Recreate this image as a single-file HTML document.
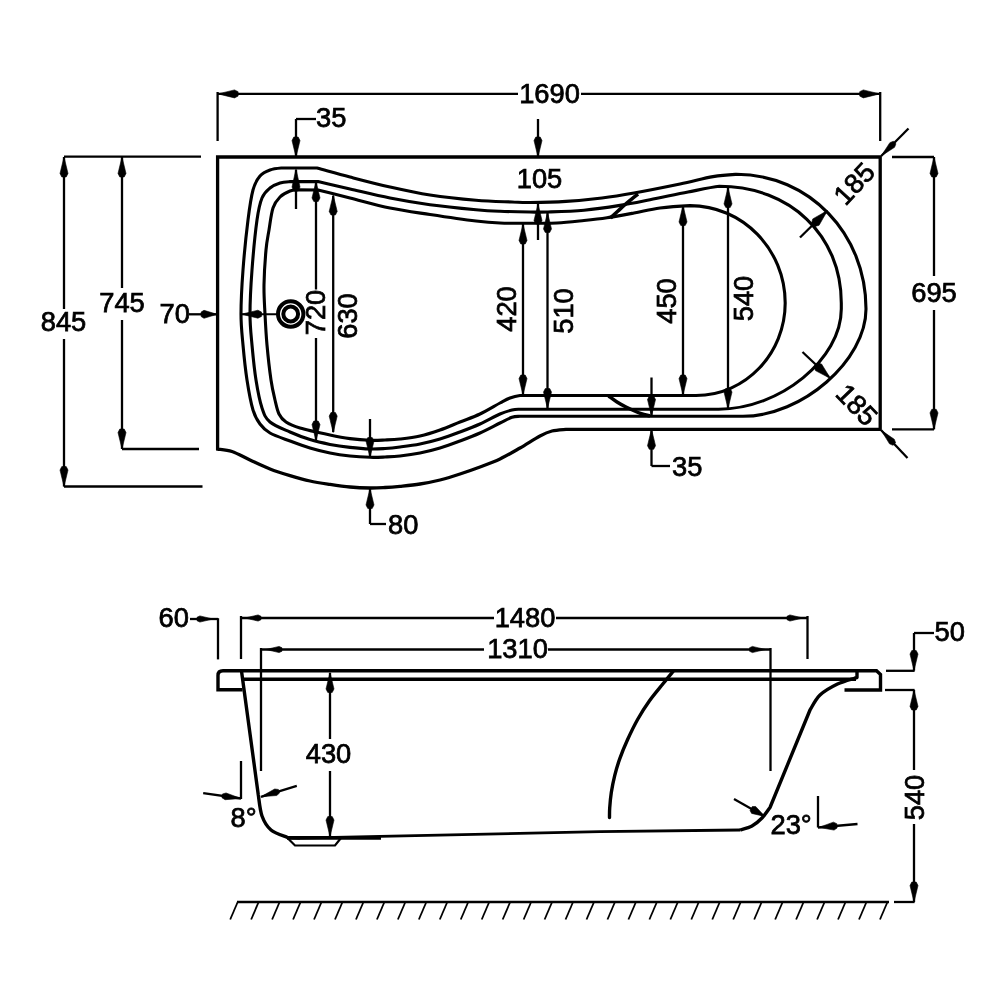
<!DOCTYPE html>
<html><head><meta charset="utf-8"><title>Bath dimensions</title>
<style>
html,body{margin:0;padding:0;background:#fff;}
body{width:1000px;height:1000px;overflow:hidden;}
svg{display:block;will-change:transform;transform:translateZ(0);}
svg *{fill:none;stroke:#000;}
svg text{font-family:"Liberation Sans",Arial,sans-serif;fill:#000;stroke:#000;stroke-width:0.75px;}
svg .ah{fill:#000;stroke:#000;stroke-width:0.6;stroke-linejoin:round;}
</style></head><body>
<svg width="1000" height="1000" viewBox="0 0 1000 1000">
<rect x="0" y="0" width="1000" height="1000" style="fill:#fff;stroke:none"/>
<path d="M 217.60,157.00 L 880.20,157.00 L 880.20,429.30 L 566,429.30  C 563.67,429.58 556.33,429.88 552.00,431.00 C 547.67,432.12 545.33,433.17 540.00,436.00 C 534.67,438.83 526.67,444.17 520.00,448.00 C 513.33,451.83 506.67,455.83 500.00,459.00 C 493.33,462.17 486.67,464.50 480.00,467.00 C 473.33,469.50 466.67,471.83 460.00,474.00 C 453.33,476.17 446.67,478.33 440.00,480.00 C 433.33,481.67 426.67,482.95 420.00,484.00 C 413.33,485.05 405.83,485.72 400.00,486.30 C 394.17,486.88 390.00,487.22 385.00,487.50 C 380.00,487.78 375.83,488.08 370.00,488.00 C 364.17,487.92 356.67,487.60 350.00,487.00 C 343.33,486.40 336.67,485.40 330.00,484.40 C 323.33,483.40 316.67,482.47 310.00,481.00 C 303.33,479.53 296.67,477.60 290.00,475.60 C 283.33,473.60 276.67,471.60 270.00,469.00 C 263.33,466.40 256.33,462.92 250.00,460.00 C 243.67,457.08 237.40,453.33 232.00,451.50 C 226.60,449.67 220.00,449.42 217.60,449.00 Z" stroke-width="3.3" stroke-linejoin="miter"/>
<path d="M 282,168 L 317,168 C 328.00,171.00 337.83,173.83 350.00,177.00 C 362.17,180.17 376.67,184.00 390.00,187.00 C 403.33,190.00 415.67,192.78 430.00,195.00 C 444.33,197.22 462.33,199.13 476.00,200.30 C 489.67,201.47 503.00,201.63 512.00,202.00 C 521.00,202.37 521.00,202.60 530.00,202.50 C 539.00,202.40 554.00,202.15 566.00,201.40 C 578.00,200.65 590.67,199.40 602.00,198.00 C 613.33,196.60 621.00,195.33 634.00,193.00 C 647.00,190.67 666.83,186.73 680.00,184.00 C 693.17,181.27 703.60,178.22 713.00,176.60 C 722.40,174.98 729.23,174.68 736.40,174.30 C 809,174.3 866,233.6 866,309 C 866,360.5 802,416.3 743,416.3 L 520,416.3 C 517.00,416.47 515.33,416.18 512.00,417.30 C 508.67,418.42 505.33,420.38 500.00,423.00 C 494.67,425.62 486.67,430.00 480.00,433.00 C 473.33,436.00 466.67,438.50 460.00,441.00 C 453.33,443.50 446.67,446.00 440.00,448.00 C 433.33,450.00 426.67,451.67 420.00,453.00 C 413.33,454.33 405.83,455.33 400.00,456.00 C 394.17,456.67 390.00,456.78 385.00,457.00 C 380.00,457.22 375.83,457.47 370.00,457.30 C 364.17,457.13 356.67,456.72 350.00,456.00 C 343.33,455.28 336.67,454.33 330.00,453.00 C 323.33,451.67 316.67,450.00 310.00,448.00 C 303.33,446.00 296.67,443.50 290.00,441.00 C 283.33,438.50 275.00,435.83 270.00,433.00 C 265.00,430.17 262.83,427.83 260.00,424.00 C 257.17,420.17 255.17,417.33 253.00,410.00 C 250.83,402.67 248.67,390.83 247.00,380.00 C 245.33,369.17 244.00,356.00 243.00,345.00 C 242.00,334.00 241.00,326.50 241.00,314.00 C 241.00,301.50 241.83,285.67 243.00,270.00 C 244.17,254.33 246.33,233.33 248.00,220.00 C 249.67,206.67 251.00,197.33 253.00,190.00 C 255.00,182.67 257.17,179.33 260.00,176.00 C 262.83,172.67 266.33,171.33 270.00,170.00 C 273.67,168.67 278.33,168.33 282.00,168.00 Z" stroke-width="3.1" stroke-linejoin="round"/>
<path d="M 290,181.6 L 318,181.6 C 328.67,184.07 338.00,186.27 350.00,189.00 C 362.00,191.73 376.67,195.38 390.00,198.00 C 403.33,200.62 415.67,202.75 430.00,204.70 C 444.33,206.65 464.33,208.60 476.00,209.70 C 487.67,210.80 491.00,210.92 500.00,211.30 C 509.00,211.68 522.00,211.88 530.00,212.00 C 538.00,212.12 539.00,212.30 548.00,212.00 C 557.00,211.70 572.00,211.30 584.00,210.20 C 596.00,209.10 609.00,207.13 620.00,205.40 C 631.00,203.67 638.67,202.03 650.00,199.80 C 661.33,197.57 676.43,194.25 688.00,192.00 C 699.57,189.75 710.73,187.25 719.40,186.30 C 790.1,186.3 841.3,235.3 841.3,303 L 841.3,309 C 841.3,359.1 780,409.2 718.6,409.2 L 520,409.2 C 517.00,409.33 515.33,409.20 512.00,410.00 C 508.67,410.80 505.33,411.67 500.00,414.00 C 494.67,416.33 486.67,421.00 480.00,424.00 C 473.33,427.00 466.67,429.50 460.00,432.00 C 453.33,434.50 446.67,437.00 440.00,439.00 C 433.33,441.00 426.67,442.67 420.00,444.00 C 413.33,445.33 405.83,446.25 400.00,447.00 C 394.17,447.75 390.00,448.17 385.00,448.50 C 380.00,448.83 375.83,449.18 370.00,449.00 C 364.17,448.82 356.67,448.17 350.00,447.40 C 343.33,446.63 336.67,445.70 330.00,444.40 C 323.33,443.10 316.67,441.67 310.00,439.60 C 303.33,437.53 296.67,434.93 290.00,432.00 C 283.33,429.07 274.67,426.00 270.00,422.00 C 265.33,418.00 264.33,415.00 262.00,408.00 C 259.67,401.00 257.67,390.50 256.00,380.00 C 254.33,369.50 253.00,356.00 252.00,345.00 C 251.00,334.00 250.00,326.50 250.00,314.00 C 250.00,301.50 250.83,285.67 252.00,270.00 C 253.17,254.33 255.33,232.00 257.00,220.00 C 258.67,208.00 259.83,203.33 262.00,198.00 C 264.17,192.67 267.00,190.50 270.00,188.00 C 273.00,185.50 276.67,184.07 280.00,183.00 C 283.33,181.93 286.67,181.83 290.00,181.60 Z" stroke-width="3.1" stroke-linejoin="round"/>
<path d="M 298,189.8 L 318,190 C 328.67,192.67 338.00,195.00 350.00,198.00 C 362.00,201.00 376.67,205.25 390.00,208.00 C 403.33,210.75 415.67,212.33 430.00,214.50 C 444.33,216.67 464.33,219.58 476.00,221.00 C 487.67,222.42 491.00,222.63 500.00,223.00 C 509.00,223.37 520.50,223.20 530.00,223.20 C 539.50,223.20 548.00,223.45 557.00,223.00 C 566.00,222.55 575.67,221.38 584.00,220.50 C 592.33,219.62 598.67,218.95 607.00,217.70 C 615.33,216.45 625.17,214.62 634.00,213.00 C 642.83,211.38 650.67,209.23 660.00,208.00 C 669.33,206.77 681.67,206.00 690.00,205.60 C 742.4,205.6 785.2,249.4 785.2,303 C 785.2,353 746,395.5 696,395.5 L 520,395.5 C 516.67,395.92 513.33,396.75 510.00,398.00 C 506.67,399.25 505.00,400.33 500.00,403.00 C 495.00,405.67 486.67,410.83 480.00,414.00 C 473.33,417.17 466.67,419.33 460.00,422.00 C 453.33,424.67 446.67,427.67 440.00,430.00 C 433.33,432.33 426.67,434.50 420.00,436.00 C 413.33,437.50 405.83,438.33 400.00,439.00 C 394.17,439.67 390.00,439.78 385.00,440.00 C 380.00,440.22 375.83,440.53 370.00,440.30 C 364.17,440.07 356.67,439.48 350.00,438.60 C 343.33,437.72 338.33,436.77 330.00,435.00 C 321.67,433.23 307.33,430.17 300.00,428.00 C 292.67,425.83 289.50,424.33 286.00,422.00 C 282.50,419.67 280.83,417.67 279.00,414.00 C 277.17,410.33 276.33,405.67 275.00,400.00 C 273.67,394.33 272.33,389.17 271.00,380.00 C 269.67,370.83 268.00,356.00 267.00,345.00 C 266.00,334.00 265.50,324.00 265.00,314.00 C 264.50,304.00 263.83,295.67 264.00,285.00 C 264.17,274.33 265.17,259.17 266.00,250.00 C 266.83,240.83 267.83,237.00 269.00,230.00 C 270.17,223.00 271.17,213.50 273.00,208.00 C 274.83,202.50 277.17,199.83 280.00,197.00 C 282.83,194.17 287.00,192.20 290.00,191.00 C 293.00,189.80 295.00,190.00 298.00,189.80 Z" stroke-width="3.1" stroke-linejoin="round"/>
<path d="M 610.50,218.00 C 611.75,216.83 615.08,213.67 618.00,211.00 C 620.92,208.33 624.67,204.83 628.00,202.00 C 631.33,199.17 636.33,195.33 638.00,194.00" stroke-width="3.6" />
<path d="M 608.60,396.00 C 610.00,397.00 614.10,400.17 617.00,402.00 C 619.90,403.83 622.10,405.10 626.00,407.00 C 629.90,408.90 636.40,411.90 640.40,413.40 C 644.40,414.90 648.40,415.57 650.00,416.00" stroke-width="3.6" />
<circle cx="290.7" cy="314" r="12.7" stroke-width="4.0"/>
<circle cx="290.7" cy="314" r="7.4" stroke-width="4.0"/>
<line x1="217.60" y1="92.00" x2="217.60" y2="141.00" stroke-width="2.3"/>
<line x1="880.20" y1="92.00" x2="880.20" y2="141.00" stroke-width="2.3"/>
<line x1="217.60" y1="93.90" x2="518.00" y2="93.90" stroke-width="2.3"/>
<line x1="581.00" y1="93.90" x2="880.20" y2="93.90" stroke-width="2.3"/>
<polygon class="ah" points="218.10,93.90 234.50,89.90 238.10,91.70 238.10,96.10 234.50,97.90"/>
<polygon class="ah" points="879.70,93.90 863.30,97.90 859.70,96.10 859.70,91.70 863.30,89.90"/>
<text x="549.50" y="103.00" text-anchor="middle" font-size="27.3">1690</text>
<line x1="316.00" y1="119.00" x2="296.00" y2="119.00" stroke-width="2.3"/>
<line x1="296.00" y1="119.00" x2="296.00" y2="157.00" stroke-width="2.3"/>
<polygon class="ah" points="296.00,157.00 292.00,140.60 293.80,137.00 298.20,137.00 300.00,140.60"/>
<line x1="296.00" y1="170.00" x2="296.00" y2="209.00" stroke-width="2.3"/>
<polygon class="ah" points="296.00,169.00 300.00,187.04 298.20,191.00 293.80,191.00 292.00,187.04"/>
<text x="316.00" y="127.00" text-anchor="start" font-size="27.3">35</text>
<line x1="538.00" y1="119.00" x2="538.00" y2="157.00" stroke-width="2.3"/>
<polygon class="ah" points="538.00,157.00 534.00,140.60 535.80,137.00 540.20,137.00 542.00,140.60"/>
<line x1="538.00" y1="204.00" x2="538.00" y2="240.00" stroke-width="2.3"/>
<polygon class="ah" points="538.00,204.00 542.00,220.40 540.20,224.00 535.80,224.00 534.00,220.40"/>
<text x="539.50" y="188.00" text-anchor="middle" font-size="27.3">105</text>
<line x1="64.00" y1="156.70" x2="201.00" y2="156.70" stroke-width="2.3"/>
<line x1="64.00" y1="157.00" x2="64.00" y2="309.00" stroke-width="2.3"/>
<line x1="64.00" y1="339.00" x2="64.00" y2="486.50" stroke-width="2.3"/>
<polygon class="ah" points="64.00,157.00 68.00,173.40 66.20,177.00 61.80,177.00 60.00,173.40"/>
<polygon class="ah" points="64.00,486.50 60.00,470.10 61.80,466.50 66.20,466.50 68.00,470.10"/>
<line x1="64.00" y1="486.50" x2="202.50" y2="486.50" stroke-width="2.3"/>
<text x="63.50" y="331.00" text-anchor="middle" font-size="27.3">845</text>
<line x1="122.00" y1="157.00" x2="122.00" y2="288.00" stroke-width="2.3"/>
<line x1="122.00" y1="320.00" x2="122.00" y2="449.00" stroke-width="2.3"/>
<polygon class="ah" points="122.00,157.00 126.00,173.40 124.20,177.00 119.80,177.00 118.00,173.40"/>
<polygon class="ah" points="122.00,449.00 118.00,432.60 119.80,429.00 124.20,429.00 126.00,432.60"/>
<line x1="122.00" y1="449.00" x2="199.00" y2="449.00" stroke-width="2.3"/>
<text x="122.00" y="312.00" text-anchor="middle" font-size="27.3">745</text>
<text x="159.50" y="323.00" text-anchor="start" font-size="27.3">70</text>
<line x1="189.00" y1="314.30" x2="217.60" y2="314.30" stroke-width="2.3"/>
<polygon class="ah" points="217.10,314.30 203.98,318.30 201.10,316.50 201.10,312.10 203.98,310.30"/>
<line x1="242.00" y1="314.20" x2="277.00" y2="314.20" stroke-width="2.0"/>
<polygon class="ah" points="241.50,314.20 257.90,310.20 261.50,312.00 261.50,316.40 257.90,318.20"/>
<line x1="316.00" y1="181.00" x2="316.00" y2="289.50" stroke-width="2.3"/>
<line x1="316.00" y1="338.00" x2="316.00" y2="441.00" stroke-width="2.3"/>
<polygon class="ah" points="316.00,181.50 320.00,197.90 318.20,201.50 313.80,201.50 312.00,197.90"/>
<polygon class="ah" points="316.00,441.00 312.00,424.60 313.80,421.00 318.20,421.00 320.00,424.60"/>
<text x="325.00" y="312.50" text-anchor="middle" font-size="27.3" transform="rotate(-90 325.00 312.50)">720</text>
<line x1="333.20" y1="196.00" x2="333.20" y2="432.00" stroke-width="2.3"/>
<polygon class="ah" points="333.20,195.00 337.20,211.40 335.40,215.00 331.00,215.00 329.20,211.40"/>
<polygon class="ah" points="333.20,432.50 329.20,416.10 331.00,412.50 335.40,412.50 337.20,416.10"/>
<text x="357.00" y="316.00" text-anchor="middle" font-size="27.3" transform="rotate(-90 357.00 316.00)">630</text>
<line x1="523.00" y1="224.00" x2="523.00" y2="395.00" stroke-width="2.3"/>
<polygon class="ah" points="523.00,224.00 527.00,240.40 525.20,244.00 520.80,244.00 519.00,240.40"/>
<polygon class="ah" points="523.00,395.00 519.00,378.60 520.80,375.00 525.20,375.00 527.00,378.60"/>
<text x="515.50" y="309.00" text-anchor="middle" font-size="27.3" transform="rotate(-90 515.50 309.00)">420</text>
<line x1="547.50" y1="212.50" x2="547.50" y2="408.00" stroke-width="2.3"/>
<polygon class="ah" points="547.50,212.50 551.50,228.90 549.70,232.50 545.30,232.50 543.50,228.90"/>
<polygon class="ah" points="547.50,408.50 543.50,392.10 545.30,388.50 549.70,388.50 551.50,392.10"/>
<text x="572.70" y="311.00" text-anchor="middle" font-size="27.3" transform="rotate(-90 572.70 311.00)">510</text>
<line x1="683.00" y1="206.00" x2="683.00" y2="395.00" stroke-width="2.3"/>
<polygon class="ah" points="683.00,205.50 687.00,221.90 685.20,225.50 680.80,225.50 679.00,221.90"/>
<polygon class="ah" points="683.00,395.00 679.00,378.60 680.80,375.00 685.20,375.00 687.00,378.60"/>
<text x="675.50" y="301.00" text-anchor="middle" font-size="27.3" transform="rotate(-90 675.50 301.00)">450</text>
<line x1="728.00" y1="188.00" x2="728.00" y2="408.00" stroke-width="2.3"/>
<polygon class="ah" points="728.00,187.50 732.00,203.90 730.20,207.50 725.80,207.50 724.00,203.90"/>
<polygon class="ah" points="728.00,408.50 724.00,392.10 725.80,388.50 730.20,388.50 732.00,392.10"/>
<text x="752.80" y="298.50" text-anchor="middle" font-size="27.3" transform="rotate(-90 752.80 298.50)">540</text>
<line x1="370.00" y1="419.00" x2="370.00" y2="457.00" stroke-width="2.3"/>
<polygon class="ah" points="370.00,457.50 366.00,441.10 367.80,437.50 372.20,437.50 374.00,441.10"/>
<line x1="370.00" y1="488.00" x2="370.00" y2="524.00" stroke-width="2.3"/>
<line x1="370.00" y1="524.00" x2="386.00" y2="524.00" stroke-width="2.3"/>
<polygon class="ah" points="370.00,488.50 374.00,504.90 372.20,508.50 367.80,508.50 366.00,504.90"/>
<text x="388.00" y="534.00" text-anchor="start" font-size="27.3">80</text>
<line x1="651.50" y1="377.50" x2="651.50" y2="416.00" stroke-width="2.3"/>
<polygon class="ah" points="651.50,416.00 647.50,399.60 649.30,396.00 653.70,396.00 655.50,399.60"/>
<line x1="651.50" y1="429.30" x2="651.50" y2="466.00" stroke-width="2.3"/>
<line x1="651.50" y1="466.00" x2="670.00" y2="466.00" stroke-width="2.3"/>
<polygon class="ah" points="651.50,429.30 655.50,445.70 653.70,449.30 649.30,449.30 647.50,445.70"/>
<text x="672.00" y="476.00" text-anchor="start" font-size="27.3">35</text>
<line x1="892.00" y1="157.00" x2="934.00" y2="157.00" stroke-width="2.3"/>
<line x1="892.00" y1="429.30" x2="934.00" y2="429.30" stroke-width="2.3"/>
<line x1="934.00" y1="157.00" x2="934.00" y2="276.00" stroke-width="2.3"/>
<line x1="934.00" y1="310.00" x2="934.00" y2="429.30" stroke-width="2.3"/>
<polygon class="ah" points="934.00,157.00 938.00,173.40 936.20,177.00 931.80,177.00 930.00,173.40"/>
<polygon class="ah" points="934.00,429.30 930.00,412.90 931.80,409.30 936.20,409.30 938.00,412.90"/>
<text x="934.00" y="302.00" text-anchor="middle" font-size="27.3">695</text>
<line x1="908.50" y1="128.50" x2="881.20" y2="156.00" stroke-width="2.3"/>
<polygon class="ah" points="881.20,156.00 889.88,142.65 893.35,141.28 895.92,143.85 894.55,147.32"/>
<line x1="907.50" y1="458.00" x2="881.20" y2="430.30" stroke-width="2.3"/>
<polygon class="ah" points="881.20,430.30 894.32,439.33 895.60,442.83 892.96,445.33 889.53,443.87"/>
<line x1="800.00" y1="237.50" x2="826.50" y2="211.50" stroke-width="2.3"/>
<polygon class="ah" points="827.50,210.50 819.09,225.28 815.11,226.39 811.61,222.89 812.72,218.91"/>
<line x1="802.50" y1="352.00" x2="829.00" y2="377.00" stroke-width="2.3"/>
<polygon class="ah" points="830.50,378.50 815.44,370.61 814.18,366.67 817.56,363.05 821.57,364.02"/>
<text x="861.00" y="190.00" text-anchor="middle" font-size="27.3" transform="rotate(-47 861.00 190.00)">185</text>
<text x="850.00" y="411.30" text-anchor="middle" font-size="27.3" transform="rotate(46 850.00 411.30)">185</text>
<path d="M 242.5,689.7 L 218,689.7 L 218,675.5 Q 218,670.8 223,670.8 L 876.5,670.8 L 880.5,674.5 L 880.5,690 L 844.5,690" stroke-width="3.4" />
<line x1="242.00" y1="679.20" x2="856.00" y2="679.20" stroke-width="3.6"/>
<path d="M 241.5,671 L 258.3,795  C 258.92,798.50 259.88,810.17 262.00,816.00 C 264.12,821.83 266.75,826.42 271.00,830.00 C 275.25,833.58 284.75,836.25 287.50,837.50 L 300,838" stroke-width="3.4" stroke-linejoin="round"/>
<line x1="287.00" y1="837.90" x2="381.00" y2="837.90" stroke-width="3.8"/>
<path d="M 300,838.2 L 380,836.4 L 600,831.6 L 740,830" stroke-width="2.8" />
<path d="M 287.5,838 L 295,845.5 L 335,845.5 L 341,838" stroke-width="2.2" />
<path d="M 740.00,830.00 C 742.00,829.33 748.33,828.00 752.00,826.00 C 755.67,824.00 759.00,821.08 762.00,818.00 C 765.00,814.92 768.67,809.25 770.00,807.50 L 810,710  C 811.67,707.50 815.42,699.33 820.00,695.00 C 824.58,690.67 831.67,686.83 837.50,684.00 C 843.33,681.17 852.08,679.00 855.00,678.00 L 857,677.5 L 857,671" stroke-width="3.4" stroke-linejoin="round"/>
<path d="M 673.50,671.00 C 671.75,673.13 667.00,678.83 663.00,683.80 C 659.00,688.77 653.73,694.85 649.50,700.80 C 645.27,706.75 641.28,712.97 637.60,719.50 C 633.92,726.03 630.37,733.48 627.40,740.00 C 624.43,746.52 621.92,752.67 619.80,758.60 C 617.68,764.53 616.12,769.93 614.70,775.60 C 613.28,781.27 612.13,787.20 611.30,792.60 C 610.47,798.00 610.00,803.85 609.70,808.00 C 609.40,812.15 609.53,815.92 609.50,817.50" stroke-width="3.4" stroke-linecap="round"/>
<line x1="237.00" y1="902.00" x2="889.00" y2="902.00" stroke-width="2.4"/>
<line x1="237.70" y1="902.00" x2="230.20" y2="919.50" stroke-width="1.8"/>
<line x1="258.66" y1="902.00" x2="251.16" y2="919.50" stroke-width="1.8"/>
<line x1="279.62" y1="902.00" x2="272.12" y2="919.50" stroke-width="1.8"/>
<line x1="300.58" y1="902.00" x2="293.08" y2="919.50" stroke-width="1.8"/>
<line x1="321.54" y1="902.00" x2="314.04" y2="919.50" stroke-width="1.8"/>
<line x1="342.50" y1="902.00" x2="335.00" y2="919.50" stroke-width="1.8"/>
<line x1="363.46" y1="902.00" x2="355.96" y2="919.50" stroke-width="1.8"/>
<line x1="384.42" y1="902.00" x2="376.92" y2="919.50" stroke-width="1.8"/>
<line x1="405.38" y1="902.00" x2="397.88" y2="919.50" stroke-width="1.8"/>
<line x1="426.34" y1="902.00" x2="418.84" y2="919.50" stroke-width="1.8"/>
<line x1="447.30" y1="902.00" x2="439.80" y2="919.50" stroke-width="1.8"/>
<line x1="468.26" y1="902.00" x2="460.76" y2="919.50" stroke-width="1.8"/>
<line x1="489.22" y1="902.00" x2="481.72" y2="919.50" stroke-width="1.8"/>
<line x1="510.18" y1="902.00" x2="502.68" y2="919.50" stroke-width="1.8"/>
<line x1="531.14" y1="902.00" x2="523.64" y2="919.50" stroke-width="1.8"/>
<line x1="552.10" y1="902.00" x2="544.60" y2="919.50" stroke-width="1.8"/>
<line x1="573.06" y1="902.00" x2="565.56" y2="919.50" stroke-width="1.8"/>
<line x1="594.02" y1="902.00" x2="586.52" y2="919.50" stroke-width="1.8"/>
<line x1="614.98" y1="902.00" x2="607.48" y2="919.50" stroke-width="1.8"/>
<line x1="635.94" y1="902.00" x2="628.44" y2="919.50" stroke-width="1.8"/>
<line x1="656.90" y1="902.00" x2="649.40" y2="919.50" stroke-width="1.8"/>
<line x1="677.86" y1="902.00" x2="670.36" y2="919.50" stroke-width="1.8"/>
<line x1="698.82" y1="902.00" x2="691.32" y2="919.50" stroke-width="1.8"/>
<line x1="719.78" y1="902.00" x2="712.28" y2="919.50" stroke-width="1.8"/>
<line x1="740.74" y1="902.00" x2="733.24" y2="919.50" stroke-width="1.8"/>
<line x1="761.70" y1="902.00" x2="754.20" y2="919.50" stroke-width="1.8"/>
<line x1="782.66" y1="902.00" x2="775.16" y2="919.50" stroke-width="1.8"/>
<line x1="803.62" y1="902.00" x2="796.12" y2="919.50" stroke-width="1.8"/>
<line x1="824.58" y1="902.00" x2="817.08" y2="919.50" stroke-width="1.8"/>
<line x1="845.54" y1="902.00" x2="838.04" y2="919.50" stroke-width="1.8"/>
<line x1="866.50" y1="902.00" x2="859.00" y2="919.50" stroke-width="1.8"/>
<line x1="887.46" y1="902.00" x2="879.96" y2="919.50" stroke-width="1.8"/>
<text x="158.50" y="627.00" text-anchor="start" font-size="27.3">60</text>
<line x1="190.00" y1="619.00" x2="218.00" y2="619.00" stroke-width="2.3"/>
<line x1="218.00" y1="618.20" x2="218.00" y2="659.40" stroke-width="2.3"/>
<polygon class="ah" points="213.00,619.00 199.88,622.10 197.00,620.71 197.00,617.29 199.88,615.90"/>
<line x1="241.00" y1="616.00" x2="241.00" y2="659.00" stroke-width="2.3"/>
<line x1="807.50" y1="616.00" x2="807.50" y2="659.00" stroke-width="2.3"/>
<line x1="241.00" y1="618.00" x2="494.00" y2="618.00" stroke-width="2.3"/>
<line x1="556.00" y1="618.00" x2="807.50" y2="618.00" stroke-width="2.3"/>
<polygon class="ah" points="245.00,618.00 258.12,614.90 261.00,616.29 261.00,619.71 258.12,621.10"/>
<polygon class="ah" points="803.00,618.00 789.88,621.10 787.00,619.71 787.00,616.29 789.88,614.90"/>
<text x="525.00" y="627.00" text-anchor="middle" font-size="27.3">1480</text>
<line x1="261.00" y1="648.00" x2="261.00" y2="771.00" stroke-width="2.3"/>
<line x1="770.50" y1="648.00" x2="770.50" y2="771.00" stroke-width="2.3"/>
<line x1="261.00" y1="649.50" x2="484.00" y2="649.50" stroke-width="2.3"/>
<line x1="548.00" y1="649.50" x2="770.50" y2="649.50" stroke-width="2.3"/>
<polygon class="ah" points="266.00,649.50 279.12,646.40 282.00,647.79 282.00,651.21 279.12,652.60"/>
<polygon class="ah" points="765.50,649.50 752.38,652.60 749.50,651.21 749.50,647.79 752.38,646.40"/>
<text x="517.50" y="658.00" text-anchor="middle" font-size="27.3">1310</text>
<line x1="330.00" y1="673.00" x2="330.00" y2="739.00" stroke-width="2.3"/>
<line x1="330.00" y1="771.00" x2="330.00" y2="836.00" stroke-width="2.3"/>
<polygon class="ah" points="330.00,672.50 334.00,688.90 332.20,692.50 327.80,692.50 326.00,688.90"/>
<polygon class="ah" points="330.00,836.50 326.00,820.10 327.80,816.50 332.20,816.50 334.00,820.10"/>
<text x="328.50" y="763.00" text-anchor="middle" font-size="27.3">430</text>
<line x1="241.00" y1="761.00" x2="241.00" y2="799.00" stroke-width="2.3"/>
<line x1="203.20" y1="793.20" x2="241.00" y2="798.50" stroke-width="2.3"/>
<polygon class="ah" points="241.00,798.50 225.10,799.70 221.92,797.71 222.45,794.00 226.04,792.96"/>
<line x1="296.80" y1="785.80" x2="261.00" y2="796.80" stroke-width="2.3"/>
<polygon class="ah" points="260.80,796.80 274.71,788.99 278.42,789.46 279.52,793.03 276.69,795.50"/>
<text x="230.50" y="827.30" text-anchor="start" font-size="27.3">8°</text>
<line x1="734.00" y1="799.00" x2="764.00" y2="816.00" stroke-width="2.3"/>
<polygon class="ah" points="765.00,816.50 751.64,813.40 750.04,810.41 752.24,806.59 755.64,806.48"/>
<text x="770.50" y="834.00" text-anchor="start" font-size="27.3">23°</text>
<line x1="818.00" y1="796.00" x2="818.00" y2="827.50" stroke-width="2.3"/>
<line x1="857.50" y1="824.00" x2="818.00" y2="827.50" stroke-width="2.3"/>
<polygon class="ah" points="819.00,827.40 833.36,822.13 836.74,823.64 837.12,828.02 834.05,830.10"/>
<text x="934.50" y="641.00" text-anchor="start" font-size="27.3">50</text>
<line x1="934.00" y1="633.00" x2="914.00" y2="633.00" stroke-width="2.3"/>
<line x1="914.00" y1="633.00" x2="914.00" y2="670.50" stroke-width="2.3"/>
<polygon class="ah" points="914.00,670.50 910.00,654.10 911.80,650.50 916.20,650.50 918.00,654.10"/>
<line x1="886.00" y1="670.80" x2="914.60" y2="670.80" stroke-width="2.3"/>
<line x1="885.00" y1="690.00" x2="914.60" y2="690.00" stroke-width="2.3"/>
<line x1="914.00" y1="690.00" x2="914.00" y2="770.00" stroke-width="2.3"/>
<line x1="914.00" y1="824.00" x2="914.00" y2="902.00" stroke-width="2.3"/>
<polygon class="ah" points="914.00,690.00 918.00,706.40 916.20,710.00 911.80,710.00 910.00,706.40"/>
<polygon class="ah" points="914.00,902.00 910.00,885.60 911.80,882.00 916.20,882.00 918.00,885.60"/>
<line x1="894.00" y1="902.00" x2="914.60" y2="902.00" stroke-width="2.3"/>
<text x="923.50" y="797.50" text-anchor="middle" font-size="27.3" transform="rotate(-90 923.50 797.50)">540</text>
</svg>
</body></html>
